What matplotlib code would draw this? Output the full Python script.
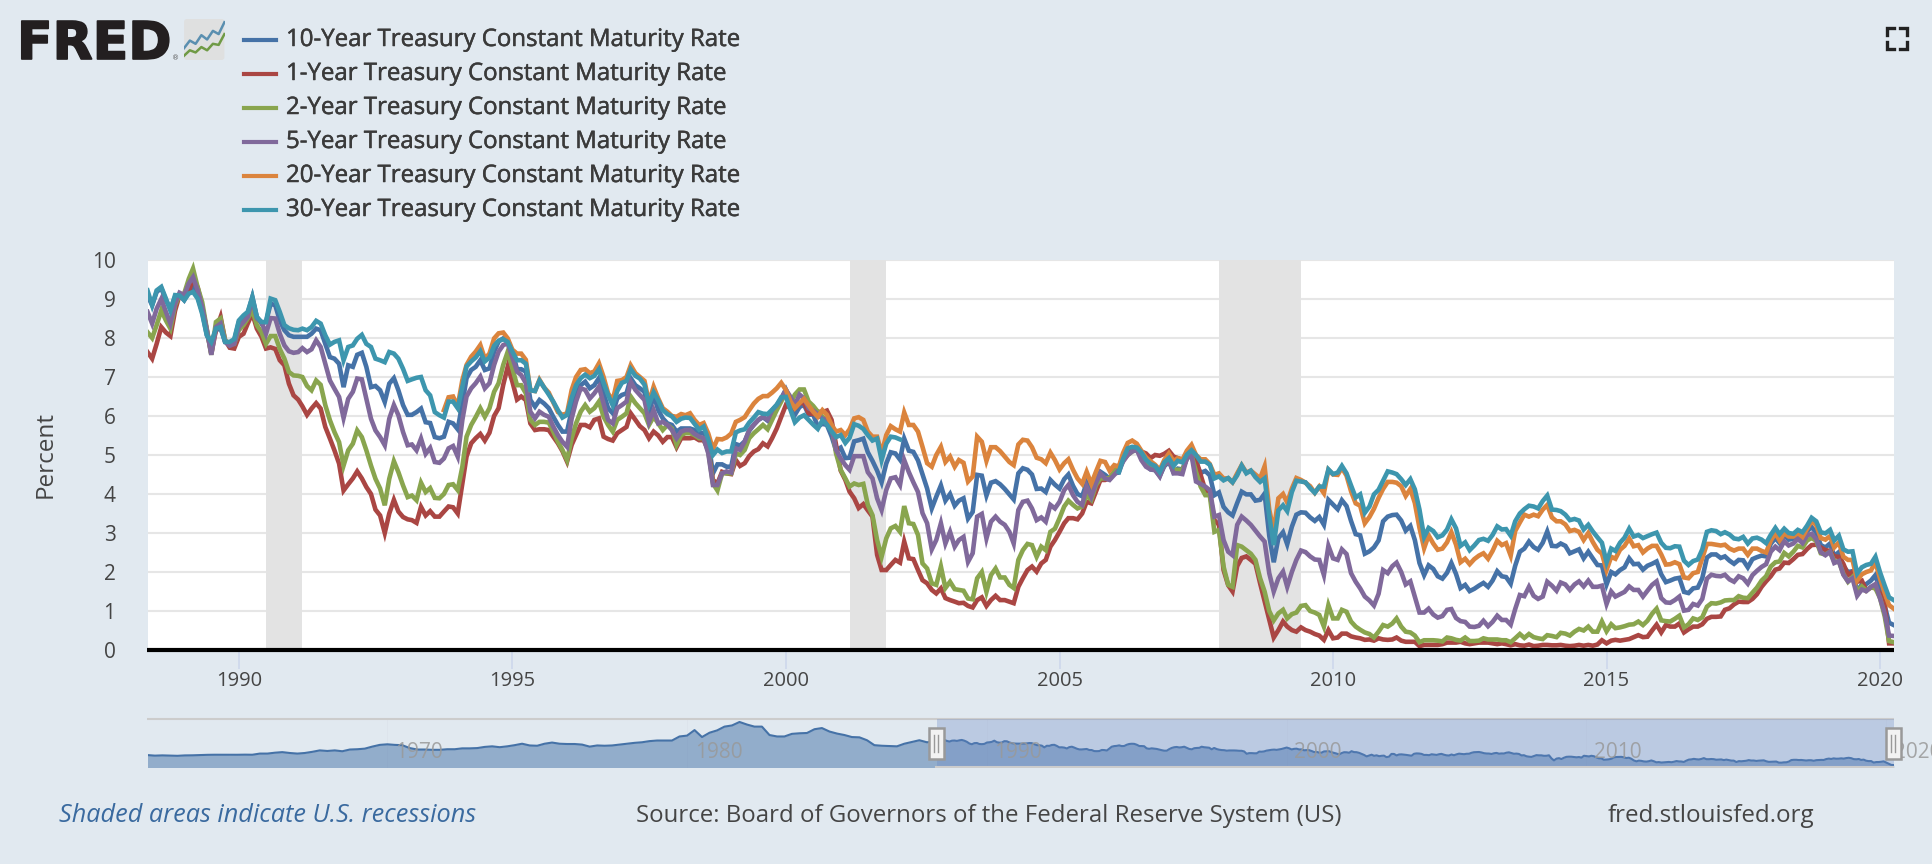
import numpy as np
import pandas as pd
import matplotlib
matplotlib.use('Agg')
import matplotlib.pyplot as plt
import matplotlib.patheffects as pe
from matplotlib.lines import Line2D
from matplotlib.patches import FancyBboxPatch, Rectangle

nan = float('nan')

# month-end yields, May 1988 to Apr 2020, one row per year
y1 = [7.64,7.47,7.85,8.28,8.14,8.05,8.70,9.10,
 9.05,9.20,9.50,9.30,8.80,8.20,7.60,8.20,8.54,7.95,7.75,7.73,
 8.03,8.11,8.37,8.63,8.24,8.03,7.73,7.76,7.72,7.43,7.30,6.83,
 6.53,6.42,6.25,6.03,6.19,6.33,6.19,5.72,5.42,5.12,4.78,4.09,
 4.25,4.40,4.58,4.40,4.18,4.00,3.60,3.45,3.00,3.50,3.85,3.55,
 3.41,3.35,3.33,3.26,3.67,3.45,3.56,3.42,3.42,3.55,3.68,3.66,
 3.50,4.27,4.96,5.30,5.43,5.54,5.37,5.57,6.00,6.20,6.80,7.27,
 6.88,6.42,6.50,6.41,5.81,5.64,5.66,5.66,5.64,5.47,5.30,5.10,
 4.83,5.26,5.51,5.77,5.77,5.71,5.90,5.94,5.47,5.41,5.37,5.56,
 5.64,5.72,6.07,5.90,5.74,5.64,5.43,5.60,5.50,5.34,5.46,5.46,
 5.20,5.43,5.43,5.43,5.45,5.38,5.38,5.13,4.36,4.27,4.57,4.53,
 4.51,4.87,4.72,4.79,4.97,5.09,5.15,5.30,5.22,5.43,5.68,5.98,
 6.28,6.20,6.20,6.33,6.33,6.07,6.05,6.11,6.10,6.14,5.90,5.26,
 4.60,4.36,4.06,3.89,3.64,3.74,3.58,3.42,2.44,2.05,2.05,2.18,
 2.31,2.24,2.78,2.35,2.33,2.05,1.79,1.71,1.54,1.45,1.58,1.33,
 1.28,1.24,1.20,1.21,1.13,1.09,1.28,1.35,1.13,1.28,1.39,1.28,
 1.28,1.24,1.20,1.62,1.84,2.05,2.14,2.01,2.22,2.31,2.65,2.82,
 3.03,3.25,3.38,3.38,3.35,3.50,3.80,3.76,4.06,4.36,4.36,4.40,
 4.57,4.70,4.96,5.09,5.17,5.23,5.09,5.04,4.92,5.00,4.98,5.03,
 5.11,4.96,4.92,4.88,5.00,5.13,4.88,4.49,4.10,4.02,3.33,3.21,
 2.05,1.66,1.50,2.15,2.36,2.40,2.31,2.21,1.71,1.25,0.77,0.32,
 0.51,0.73,0.60,0.51,0.47,0.58,0.51,0.47,0.41,0.37,0.26,0.51,
 0.30,0.32,0.42,0.42,0.35,0.32,0.30,0.26,0.27,0.24,0.30,0.27,
 0.26,0.27,0.32,0.24,0.21,0.21,0.21,0.10,0.13,0.13,0.13,0.13,
 0.15,0.19,0.19,0.19,0.21,0.17,0.15,0.17,0.19,0.19,0.19,0.17,
 0.15,0.17,0.15,0.12,0.15,0.12,0.11,0.14,0.10,0.11,0.13,0.13,
 0.12,0.12,0.13,0.11,0.10,0.11,0.13,0.11,0.13,0.11,0.14,0.25,
 0.17,0.24,0.26,0.24,0.26,0.28,0.33,0.38,0.33,0.34,0.50,0.65,
 0.45,0.64,0.60,0.60,0.68,0.45,0.53,0.60,0.60,0.66,0.80,0.85,
 0.85,0.86,1.03,1.07,1.17,1.24,1.23,1.23,1.31,1.43,1.62,1.76,
 1.89,2.06,2.09,2.24,2.23,2.33,2.44,2.46,2.59,2.69,2.70,2.63,
 2.56,2.54,2.40,2.39,2.21,1.92,2.00,1.75,1.78,1.53,1.60,1.59,
 1.45,1.17,0.17,0.17]

y2 = [8.15,8.00,8.33,8.71,8.45,8.24,8.84,9.10,
 9.14,9.52,9.78,9.30,8.92,8.24,7.57,8.41,8.50,7.94,7.85,7.85,
 8.20,8.33,8.50,8.71,8.33,8.15,7.85,8.05,8.05,7.72,7.47,7.13,
 7.04,7.03,7.00,6.77,6.66,6.91,6.80,6.28,5.89,5.59,5.33,4.73,
 5.12,5.29,5.63,5.46,5.12,4.73,4.39,4.14,3.71,4.39,4.84,4.56,
 4.22,3.92,3.96,3.84,4.29,4.05,4.15,3.90,3.89,4.00,4.23,4.25,
 4.10,4.70,5.47,5.77,5.97,6.20,5.98,6.20,6.62,6.84,7.31,7.65,
 7.22,6.79,6.79,6.58,5.90,5.77,5.85,5.85,5.83,5.60,5.34,5.13,
 4.87,5.43,5.81,6.11,6.28,6.11,6.20,6.37,5.98,5.77,5.60,5.90,
 5.98,6.07,6.50,6.33,6.20,6.07,5.77,5.98,5.81,5.64,5.77,5.68,
 5.26,5.51,5.56,5.56,5.51,5.43,5.43,5.09,4.27,4.09,4.53,4.53,
 4.53,5.04,5.00,5.13,5.43,5.56,5.66,5.77,5.66,5.90,6.15,6.37,
 6.62,6.33,6.55,6.68,6.68,6.37,6.26,6.11,5.98,5.90,5.77,5.04,
 4.62,4.40,4.19,4.27,4.23,4.26,3.72,3.46,2.82,2.39,2.86,3.12,
 3.18,3.03,3.69,3.25,3.23,2.95,2.22,2.09,1.71,1.67,2.14,1.59,
 1.75,1.56,1.54,1.52,1.32,1.30,1.84,2.00,1.49,1.92,2.09,1.86,
 1.86,1.67,1.59,2.31,2.56,2.72,2.69,2.39,2.65,2.56,3.03,3.11,
 3.38,3.68,3.83,3.72,3.63,3.68,3.97,3.85,4.23,4.40,4.40,4.41,
 4.57,4.70,4.87,5.00,5.09,5.14,5.00,4.75,4.66,4.62,4.49,4.75,
 4.87,4.63,4.62,4.62,4.92,5.00,4.57,4.19,3.97,3.97,3.03,3.08,
 2.14,1.67,1.62,2.69,2.65,2.56,2.47,2.31,1.84,1.50,1.00,0.76,
 0.94,1.03,0.81,0.92,0.96,1.13,1.15,1.00,0.96,0.90,0.60,1.15,
 0.81,0.81,1.03,0.98,0.73,0.60,0.52,0.45,0.41,0.32,0.47,0.64,
 0.60,0.68,0.81,0.60,0.47,0.45,0.37,0.20,0.25,0.25,0.25,0.24,
 0.22,0.32,0.30,0.26,0.24,0.32,0.23,0.23,0.24,0.30,0.27,0.27,
 0.27,0.25,0.25,0.20,0.30,0.41,0.31,0.41,0.33,0.30,0.28,0.38,
 0.36,0.33,0.44,0.42,0.37,0.47,0.54,0.50,0.60,0.47,0.47,0.73,
 0.48,0.66,0.56,0.58,0.61,0.65,0.66,0.73,0.64,0.75,0.93,1.06,
 0.76,0.74,0.73,0.80,0.88,0.58,0.66,0.81,0.77,0.84,1.11,1.20,
 1.19,1.22,1.27,1.28,1.28,1.38,1.34,1.33,1.47,1.60,1.78,1.89,
 2.14,2.25,2.27,2.49,2.40,2.52,2.67,2.63,2.81,2.87,2.80,2.48,
 2.45,2.52,2.27,2.27,1.95,1.75,1.87,1.50,1.63,1.52,1.61,1.58,
 1.33,0.86,0.23,0.20]

y5 = [8.67,8.37,8.75,9.00,8.67,8.37,8.88,9.16,
 9.10,9.40,9.56,9.22,8.80,8.20,7.57,8.28,8.37,7.90,7.80,7.85,
 8.28,8.41,8.54,9.00,8.50,8.41,8.11,8.51,8.50,8.11,7.81,7.66,
 7.62,7.64,7.74,7.64,7.71,7.94,7.77,7.34,6.91,6.70,6.49,5.95,
 6.44,6.62,6.96,6.94,6.44,5.93,5.63,5.46,5.25,5.93,6.28,6.02,
 5.59,5.25,5.27,5.12,5.42,5.03,5.18,4.82,4.80,4.91,5.17,5.23,
 4.96,5.90,6.50,6.71,6.84,7.01,6.71,6.84,7.31,7.65,7.82,7.86,
 7.50,7.14,7.05,6.84,6.11,5.94,6.11,6.03,5.98,5.73,5.51,5.34,
 5.21,5.94,6.37,6.71,6.67,6.45,6.58,6.75,6.32,5.90,5.81,6.20,
 6.28,6.37,6.88,6.67,6.54,6.41,5.85,6.15,5.81,5.85,5.77,5.64,
 5.43,5.60,5.64,5.64,5.54,5.47,5.43,5.04,4.23,4.23,4.53,4.58,
 4.55,5.17,5.13,5.34,5.64,5.77,5.90,5.98,5.90,6.15,6.28,6.45,
 6.67,6.49,6.28,6.55,6.45,6.20,6.14,6.05,5.93,5.90,5.70,5.13,
 4.91,4.74,4.62,4.97,4.97,4.97,4.56,4.40,3.89,3.59,4.10,4.40,
 4.43,4.23,4.87,4.56,4.30,4.05,3.51,3.25,2.58,2.82,3.25,2.73,
 3.03,2.65,2.82,2.90,2.26,2.48,3.42,3.49,2.86,3.29,3.42,3.29,
 3.21,3.03,2.73,3.59,3.80,3.83,3.63,3.33,3.40,3.29,3.72,3.63,
 3.80,4.10,4.23,3.97,3.80,3.72,4.19,3.93,4.28,4.53,4.40,4.36,
 4.49,4.62,4.83,5.00,5.09,5.13,4.87,4.70,4.63,4.62,4.45,4.75,
 4.88,4.53,4.53,4.51,4.92,5.00,4.32,4.26,4.19,4.10,3.42,3.46,
 2.82,2.52,2.43,3.21,3.42,3.32,3.21,3.06,2.91,2.78,1.97,1.50,
 1.84,2.01,1.62,2.00,2.31,2.55,2.51,2.40,2.32,2.31,1.92,2.67,
 2.35,2.31,2.58,2.46,1.97,1.75,1.58,1.37,1.27,1.14,1.44,2.05,
 1.97,2.15,2.24,2.00,1.68,1.76,1.37,0.96,0.96,1.06,0.91,0.83,
 0.87,1.03,1.05,0.82,0.74,0.72,0.60,0.59,0.62,0.75,0.61,0.72,
 0.88,0.77,0.77,0.65,1.05,1.41,1.38,1.62,1.39,1.31,1.37,1.75,
 1.65,1.52,1.73,1.68,1.54,1.68,1.76,1.63,1.78,1.62,1.62,1.65,
 1.18,1.50,1.37,1.43,1.49,1.63,1.54,1.54,1.37,1.52,1.67,1.76,
 1.33,1.22,1.21,1.28,1.37,1.01,1.03,1.18,1.14,1.31,1.83,1.93,
 1.90,1.89,1.93,1.81,1.75,1.89,1.84,1.70,1.92,2.03,2.13,2.20,
 2.52,2.65,2.56,2.79,2.68,2.73,2.85,2.74,2.94,2.98,2.84,2.51,
 2.43,2.52,2.23,2.28,1.93,1.76,1.84,1.39,1.55,1.51,1.62,1.69,
 1.32,0.94,0.37,0.36]

y10 = [9.09,8.84,9.18,9.28,8.97,8.75,9.05,9.10,
 8.97,9.18,9.30,9.05,8.67,8.08,7.81,8.20,8.25,7.90,7.85,7.94,
 8.41,8.50,8.63,9.05,8.54,8.37,8.41,8.88,8.84,8.45,8.20,8.07,
 8.03,8.03,8.03,8.03,8.11,8.24,8.20,7.85,7.51,7.47,7.34,6.74,
 7.30,7.26,7.57,7.62,7.26,6.74,6.77,6.66,6.36,6.83,6.97,6.66,
 6.28,6.03,6.03,6.10,6.19,5.84,5.82,5.46,5.43,5.47,5.85,5.81,
 5.66,6.32,6.97,7.18,7.26,7.43,7.18,7.22,7.65,7.91,7.99,7.95,
 7.65,7.20,7.20,7.14,6.41,6.24,6.41,6.32,6.20,5.98,5.77,5.60,
 5.60,6.15,6.54,6.79,6.88,6.71,6.79,6.97,6.58,6.20,6.07,6.45,
 6.54,6.58,6.97,6.79,6.71,6.62,6.07,6.54,6.15,5.94,5.81,5.77,
 5.60,5.68,5.68,5.68,5.64,5.56,5.56,5.34,4.53,4.76,4.76,4.70,
 4.70,5.28,5.24,5.35,5.62,5.78,5.90,5.97,5.88,6.02,6.19,6.45,
 6.68,6.42,6.03,6.23,6.29,6.03,6.04,5.73,5.80,5.77,5.48,5.12,
 5.19,4.92,4.93,5.35,5.38,5.42,5.07,4.85,4.60,4.30,4.78,5.07,
 5.04,4.88,5.42,5.11,5.08,4.86,4.51,4.14,3.63,3.93,4.22,3.83,
 4.00,3.70,3.83,3.89,3.37,3.54,4.49,4.47,3.96,4.29,4.33,4.25,
 4.13,3.99,3.86,4.53,4.66,4.62,4.50,4.13,4.14,4.05,4.36,4.24,
 4.14,4.38,4.50,4.21,4.00,3.94,4.28,4.02,4.34,4.57,4.49,4.39,
 4.53,4.55,4.86,5.07,5.12,5.15,4.99,4.74,4.63,4.61,4.46,4.71,
 4.83,4.56,4.65,4.63,4.90,5.03,4.78,4.54,4.59,4.48,3.97,4.04,
 3.67,3.53,3.45,3.77,4.06,3.99,3.99,3.83,3.85,4.01,2.93,2.25,
 2.87,3.02,2.71,3.16,3.47,3.53,3.52,3.40,3.31,3.41,3.21,3.85,
 3.73,3.61,3.84,3.69,3.31,2.97,2.94,2.47,2.53,2.63,2.81,3.30,
 3.42,3.46,3.47,3.32,3.06,3.18,2.82,2.23,1.92,2.17,2.08,1.89,
 1.83,1.98,2.23,1.95,1.59,1.67,1.51,1.57,1.65,1.72,1.62,1.78,
 2.02,1.89,1.87,1.70,2.16,2.52,2.60,2.78,2.64,2.57,2.75,3.04,
 2.67,2.66,2.73,2.67,2.48,2.53,2.58,2.35,2.52,2.35,2.18,2.17,
 1.68,2.00,1.94,2.05,2.12,2.35,2.20,2.21,2.06,2.16,2.21,2.27,
 1.94,1.74,1.78,1.83,1.85,1.49,1.46,1.58,1.60,1.84,2.37,2.45,
 2.45,2.36,2.40,2.29,2.21,2.31,2.30,2.12,2.33,2.38,2.42,2.40,
 2.72,2.87,2.74,2.95,2.83,2.85,2.96,2.86,3.05,3.15,3.01,2.69,
 2.63,2.73,2.41,2.51,2.14,2.00,2.02,1.50,1.68,1.69,1.78,1.92,
 1.51,1.13,0.70,0.64]

# 20-year series starts Oct 1993
y20 = [nan]*65 + [6.15,6.48,6.50,
 6.25,6.92,7.31,7.52,7.65,7.82,7.47,7.60,7.99,8.12,8.14,7.99,
 7.70,7.60,7.60,7.44,6.66,6.64,6.93,6.73,6.60,6.35,6.10,6.03,
 6.07,6.67,7.00,7.18,7.20,7.10,7.14,7.35,7.00,6.58,6.40,6.90,
 6.92,7.00,7.30,7.10,7.00,6.90,6.35,6.75,6.45,6.20,6.11,6.00,
 5.98,6.05,6.02,6.07,5.90,5.77,5.82,5.55,5.15,5.41,5.40,5.45,
 5.55,5.85,5.90,5.97,6.15,6.32,6.44,6.51,6.51,6.60,6.71,6.85,
 6.67,6.37,6.20,6.33,6.44,6.27,6.11,5.98,6.15,6.03,5.77,5.60,
 5.64,5.51,5.66,5.94,5.97,5.90,5.60,5.47,5.47,5.04,5.51,5.74,
 5.66,5.60,6.09,5.77,5.77,5.60,5.21,4.79,4.70,5.00,5.21,4.82,
 4.96,4.70,4.87,4.80,4.32,4.45,5.47,5.34,4.85,5.20,5.20,5.10,
 4.96,4.82,4.74,5.27,5.39,5.37,5.20,4.93,4.89,4.79,5.06,4.87,
 4.63,4.79,4.89,4.62,4.40,4.26,4.57,4.26,4.57,4.85,4.82,4.60,
 4.74,4.70,5.05,5.31,5.37,5.29,5.11,4.94,4.84,4.75,4.62,4.87,
 5.04,4.84,4.92,4.88,5.11,5.26,5.00,4.89,4.89,4.77,4.49,4.53,
 4.40,4.40,4.30,4.53,4.74,4.55,4.60,4.50,4.40,4.71,3.60,3.05,
 3.89,4.00,3.78,4.14,4.41,4.36,4.29,4.20,4.03,4.19,4.02,4.62,
 4.50,4.49,4.67,4.47,4.07,3.76,3.70,3.25,3.41,3.62,3.90,4.13,
 4.31,4.31,4.29,4.20,3.95,4.13,3.77,3.13,2.61,2.94,2.73,2.57,
 2.60,2.76,3.02,2.70,2.25,2.34,2.20,2.33,2.42,2.48,2.34,2.54,
 2.80,2.69,2.74,2.42,3.05,3.27,3.47,3.42,3.47,3.43,3.60,3.72,
 3.40,3.30,3.30,3.22,3.05,3.08,3.03,2.82,3.00,2.77,2.57,2.47,
 2.05,2.39,2.34,2.57,2.67,2.86,2.66,2.69,2.50,2.60,2.67,2.67,
 2.45,2.19,2.20,2.25,2.20,1.86,1.84,1.97,2.00,2.35,2.72,2.72,
 2.70,2.68,2.70,2.60,2.55,2.60,2.60,2.44,2.60,2.60,2.54,2.50,
 2.80,3.00,2.81,2.99,2.91,2.91,3.00,2.90,3.11,3.31,3.20,2.87,
 2.83,2.92,2.63,2.76,2.39,2.31,2.31,1.78,1.94,2.00,2.04,2.25,
 1.83,1.46,1.15,1.06]

# 30-year series has a gap, Mar 2002 to Jan 2006
y30 = [9.22,8.84,9.22,9.31,9.01,8.70,9.10,9.09,
 8.97,9.14,9.18,9.01,8.62,8.07,7.90,8.24,8.28,7.90,7.90,7.97,
 8.45,8.58,8.67,9.05,8.54,8.41,8.41,9.01,8.97,8.67,8.33,8.25,
 8.21,8.20,8.24,8.20,8.28,8.44,8.37,8.07,7.83,7.90,7.94,7.43,
 7.77,7.81,7.98,8.08,7.85,7.77,7.47,7.43,7.38,7.64,7.60,7.47,
 7.21,6.90,6.94,6.98,7.00,6.66,6.53,6.10,6.02,5.96,6.37,6.37,
 6.20,6.75,7.27,7.40,7.50,7.66,7.40,7.50,7.80,7.93,7.97,7.90,
 7.65,7.43,7.43,7.34,6.66,6.64,6.91,6.73,6.55,6.37,6.15,5.96,
 6.03,6.47,6.79,6.97,7.06,6.97,7.03,7.20,6.85,6.54,6.27,6.64,
 6.85,6.90,7.20,7.03,6.96,6.80,6.30,6.61,6.40,6.15,6.05,5.99,
 5.85,5.93,5.96,5.95,5.80,5.65,5.73,5.40,5.00,5.14,5.05,5.09,
 5.09,5.58,5.63,5.66,5.83,5.96,6.10,6.06,6.05,6.16,6.29,6.48,
 6.49,6.15,5.84,5.96,6.02,5.90,5.78,5.67,5.89,5.78,5.61,5.46,
 5.51,5.31,5.44,5.79,5.75,5.67,5.51,5.37,5.42,4.87,5.29,5.47,
 5.45,5.40] + [nan]*47 + [4.57,4.90,5.17,5.21,5.19,5.07,4.88,4.77,4.72,4.56,4.81,
 4.92,4.72,4.85,4.81,5.01,5.12,5.00,4.83,4.83,4.75,4.40,4.45,
 4.35,4.41,4.30,4.48,4.73,4.53,4.60,4.43,4.31,4.40,3.44,2.69,
 3.58,3.71,3.56,4.05,4.34,4.32,4.30,4.15,4.03,4.19,4.19,4.63,
 4.51,4.55,4.72,4.53,4.22,3.91,3.99,3.52,3.68,3.99,4.11,4.34,
 4.58,4.55,4.51,4.38,4.23,4.38,4.12,3.60,2.90,3.13,3.05,2.89,
 2.94,3.09,3.35,3.12,2.67,2.76,2.56,2.68,2.82,2.85,2.80,2.95,
 3.17,3.09,3.10,2.93,3.30,3.50,3.61,3.70,3.68,3.63,3.82,3.96,
 3.60,3.59,3.56,3.47,3.33,3.36,3.32,3.09,3.21,3.04,2.89,2.75,
 2.25,2.60,2.54,2.75,2.88,3.11,2.91,2.95,2.87,2.92,2.97,3.01,
 2.75,2.62,2.61,2.66,2.65,2.29,2.18,2.28,2.32,2.58,3.03,3.07,
 3.05,2.97,3.02,2.96,2.86,2.84,2.90,2.73,2.86,2.88,2.83,2.74,
 2.95,3.13,2.97,3.11,3.00,2.98,3.08,3.02,3.19,3.39,3.30,3.02,
 2.99,3.08,2.81,2.93,2.58,2.52,2.53,1.96,2.12,2.18,2.21,2.39,
 1.99,1.65,1.35,1.28]

# navigator: 10-year series before the main window, quarterly from 1962
nav_early = [4.08,3.89,3.98,3.90,3.83,3.97,4.00,4.10,4.17,4.20,4.19,4.15,
 4.19,4.23,4.20,4.60,4.60,4.90,5.10,4.80,4.60,4.80,5.20,5.70,
 5.50,5.70,5.40,6.00,6.10,6.30,7.00,7.60,7.80,7.60,7.50,6.50,
 6.00,6.00,5.90,5.90,6.10,6.10,6.40,6.40,6.50,6.90,7.10,6.80,
 7.10,7.50,8.00,7.40,7.30,8.00,8.40,8.00,7.90,7.90,7.70,7.00,
 7.40,7.30,7.40,7.70,8.00,8.30,8.50,8.90,9.10,9.10,9.10,10.50,
 10.80,12.70,10.30,11.80,12.60,13.90,14.30,15.50,14.60,13.90,13.90,11.00,
 10.50,10.50,11.40,11.60,11.70,13.00,13.40,12.20,11.50,11.00,10.30,10.20,
 9.20,7.50,7.30,7.20,7.10,8.00,8.60,9.20,8.50,8.80]

series_names = ['10-Year Treasury Constant Maturity Rate', '1-Year Treasury Constant Maturity Rate',
                '2-Year Treasury Constant Maturity Rate', '5-Year Treasury Constant Maturity Rate',
                '20-Year Treasury Constant Maturity Rate', '30-Year Treasury Constant Maturity Rate']
series_values = [y10, y1, y2, y5, y20, y30]
series_colors = ['#4572a7', '#aa4643', '#89a54e', '#80699b', '#db843d', '#3d96ae']

recessions = [('1990-07-01', '1991-03-01'), ('2001-03-01', '2001-11-01'), ('2007-12-01', '2009-06-01')]
year_ticks = [1990, 1995, 2000, 2005, 2010, 2015, 2020]
nav_years = [1970, 1980, 1990, 2000, 2010, 2020]
logo_x = [0, 1, 2, 3, 4, 5, 6, 7]
logo_blue = [2.2, 3.6, 3.0, 4.6, 3.8, 5.4, 4.8, 7.0]
logo_green = [0.8, 1.8, 1.4, 2.4, 1.8, 3.0, 2.8, 4.8]

BG = '#e1e9f0'
TXT = '#454545'
plt.rcParams['font.family'] = ['Open Sans', 'DejaVu Sans']

W, H = 1932, 864
fig = plt.figure(figsize=(W / 100, H / 100), dpi=100, facecolor=BG)

def box(left, top, right, bottom):
    # pixel box to figure fractions
    return [left / W, 1 - bottom / H, (right - left) / W, (bottom - top) / H]

def fx(x):
    return x / W

def fy(y):
    return 1 - y / H

dates = pd.date_range('1988-05-01', periods=len(y10), freq='MS')

# main chart
ax = fig.add_axes(box(147.5, 260, 1893.7, 650))
ax.set_facecolor('white')
ax.set_xlim(dates[0], dates[-1])
ax.set_ylim(0, 10)
for s in ['top', 'left', 'right']:
    ax.spines[s].set_visible(False)
ax.spines['bottom'].set_color('black')
ax.spines['bottom'].set_linewidth(3)
ax.spines['bottom'].set_capstyle('butt')
ax.spines['bottom'].set_zorder(10)
ax.grid(True, axis='y', color='#e6e6e6', linewidth=1.5, zorder=1)
ax.set_axisbelow(True)
for start, end in recessions:
    ax.axvspan(pd.Timestamp(start), pd.Timestamp(end), color='#e3e3e3', linewidth=0, zorder=1.5)
for vals, c, name in zip(series_values, series_colors, series_names):
    ax.plot(dates, vals, color=c, linewidth=3.3, solid_joinstyle='miter', label=name, zorder=3)
ax.set_yticks(range(0, 11))
ax.tick_params(axis='y', length=0, pad=23, labelsize=15, labelcolor=TXT)
ax.set_xticks([pd.Timestamp(f'{y}-01-01') for y in year_ticks])
ax.set_xticklabels([str(y) for y in year_ticks])
ax.tick_params(axis='x', length=14, width=1.1, color='#ccd6eb', pad=1, labelsize=14.5, labelcolor=TXT)
fig.text(fx(46), fy(455), 'Percent', rotation=90, ha='center', va='center', fontsize=17.5, color=TXT)

# navigator
nav_dates = pd.date_range('1962-01-01', periods=len(nav_early), freq='QS')
nav_x = list(nav_dates) + list(dates)
nav_y = nav_early + y10
nav = fig.add_axes(box(147.5, 718.5, 1893.7, 767.5))
nav.patch.set_alpha(0)
nav.set_xlim(pd.Timestamp('1962-01-01'), dates[-1])
nav.set_ylim(-0.2, 16.7)
nav.set_xticks([])
nav.set_yticks([])
for s in ['left', 'right', 'bottom']:
    nav.spines[s].set_visible(False)
nav.spines['top'].set_color('#cccccc')
nav.spines['top'].set_linewidth(1.5)
nav.spines['top'].set_capstyle('butt')
nav.fill_between(nav_x, nav_y, -0.2, color='#4572a7', alpha=0.5, linewidth=0, zorder=2)
nav.plot(nav_x, nav_y, color='#4572a7', linewidth=1.5, zorder=3)
nav.axvspan(dates[0], dates[-1], color='#6685c2', alpha=0.3, linewidth=0, zorder=4)
nav.axhline(-0.1, xmin=(936 - 147.5) / 1746.2, color='#cccccc', linewidth=1.5, zorder=5)
for y in nav_years:
    d = pd.Timestamp(f'{y}-01-01')
    nav.axvline(d, color='#dde4ec', linewidth=0.6, zorder=1)
    nav.annotate(str(y), (d, 0), xycoords=('data', 'axes fraction'), xytext=(5.5, 11), textcoords='offset points',
                 ha='left', va='center', fontsize=15, color='#999999', alpha=0.85, zorder=5,
                 annotation_clip=False)

# navigator handles
for hx in [936, 1893]:
    fig.add_artist(Rectangle((fx(hx - 7.5), fy(759)), 15 / W, 31 / H, transform=fig.transFigure,
                             facecolor='#f2f2f2', edgecolor='#999999', linewidth=1.8, zorder=6))
    for dx in [-1.6, 1.6]:
        fig.add_artist(Line2D([fx(hx + dx)] * 2, [fy(735), fy(752)], color='#999999', linewidth=1, zorder=7))

# legend
legend_y = [40, 74, 108, 142, 176, 210]
for yy, name, c in zip(legend_y, series_names, series_colors):
    fig.add_artist(Line2D([fx(244), fx(276)], [fy(yy), fy(yy)], color=c, linewidth=3))
    fig.text(fx(286), fy(yy), name, ha='left', va='center', fontsize=17.3, color='#3a3a3a',
             path_effects=[pe.withStroke(linewidth=0.35, foreground='#3a3a3a')])

# FRED logo
fig.text(fx(17), fy(59), 'FRED', ha='left', va='baseline', fontsize=37.5, fontweight='bold',
         color='#231f20', family='DejaVu Sans',
         path_effects=[pe.withStroke(linewidth=1.2, foreground='#231f20')])
fig.text(fx(176), fy(60), '\u00ae', ha='center', va='baseline', fontsize=5, color='#555555', family='DejaVu Sans')
logo = fig.add_axes(box(183.5, 19, 225, 60))
logo.axis('off')
logo.set_xlim(-0.1, 7.1)
logo.set_ylim(0, 7.6)
logo.add_patch(FancyBboxPatch((0, 0), 7, 7.6, boxstyle='round,pad=0,rounding_size=0.5',
                              facecolor='#dfe0e0', edgecolor='none'))
logo.plot(logo_x, logo_blue, color='#5a8fb0', linewidth=1.8)
logo.plot(logo_x, logo_green, color='#6f9a45', linewidth=1.8)

# fullscreen icon
corner = 7
for cx, sx in [(1887, 1), (1907, -1)]:
    for cy, sy in [(28, 1), (49, -1)]:
        fig.add_artist(Line2D([fx(cx + sx * corner), fx(cx), fx(cx)],
                              [fy(cy), fy(cy), fy(cy + sy * corner)],
                              color='#222222', linewidth=2.4, solid_joinstyle='miter'))

# footer
fig.text(fx(59), fy(816), 'Shaded areas indicate U.S. recessions', ha='left', va='center',
         fontsize=18.2, style='italic', color='#3a6a9f')
fig.text(fx(636), fy(816), 'Source: Board of Governors of the Federal Reserve System (US)', ha='left', va='center',
         fontsize=17.25, color=TXT)
fig.text(fx(1608), fy(816), 'fred.stlouisfed.org', ha='left', va='center', fontsize=17.4, color=TXT)

fig.savefig('out.png', dpi=100, facecolor=BG)
